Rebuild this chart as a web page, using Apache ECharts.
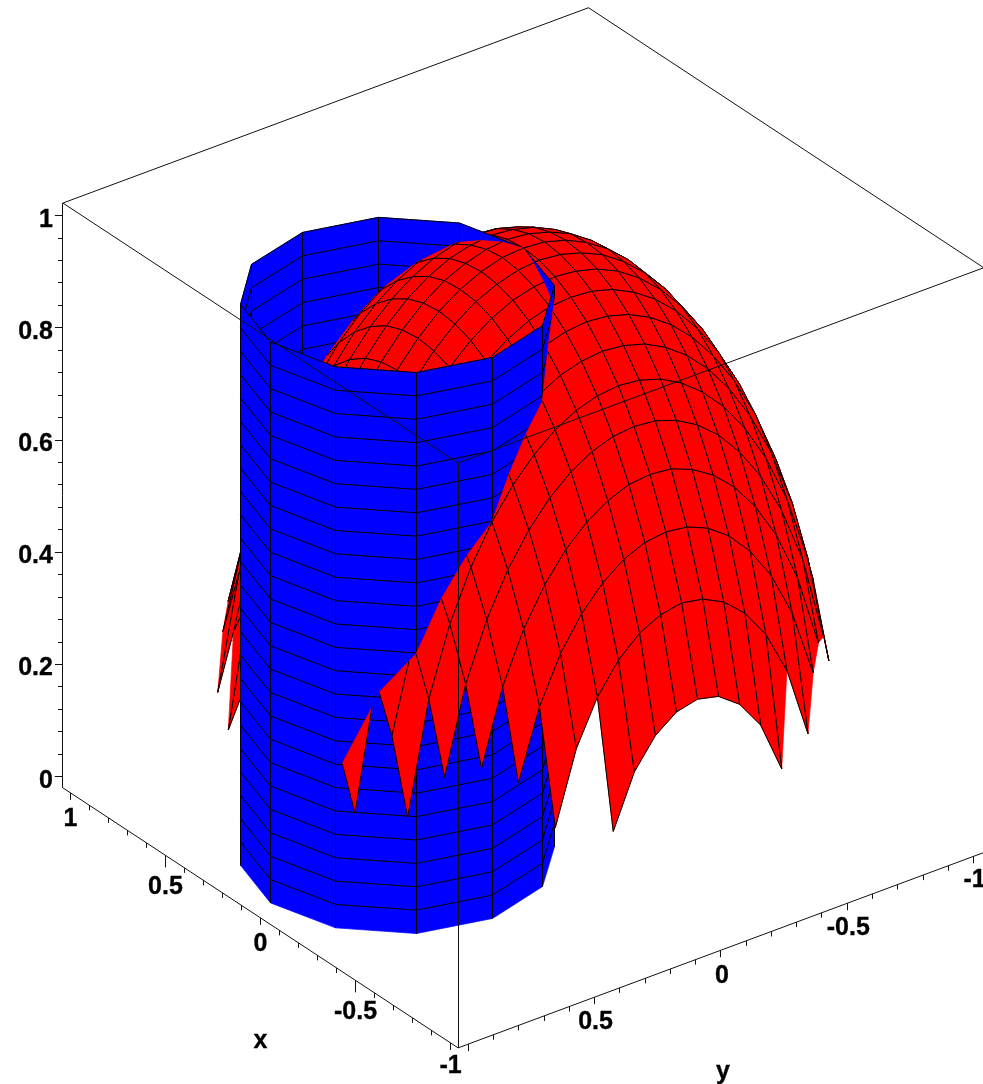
<!DOCTYPE html>
<html><head><meta charset="utf-8">
<style>html,body{margin:0;padding:0;background:#fff}#c{width:983px;height:1084px}</style>
<script src="https://cdn.jsdelivr.net/npm/echarts@6/dist/echarts.min.js"></script>
</head><body><div id="c"></div>
<script>
// ---------- data ----------
const gridSteps = [-1,-0.9167,-0.8333,-0.75,-0.6667,-0.5833,-0.5,-0.4167,-0.3333,-0.25,-0.1667,-0.0833,0,0.0833,0.1667,0.25,0.3333,0.4167,0.5,0.5833,0.6667,0.75,0.8333,0.9167,1];
// surface heights for |x| index (rows) and |y| index (columns), 0..12; null = no surface there
const heightRow0  = [1,.997,.986,.968,.943,.909,.866,.812,.745,.661,.553,.400,null];
const heightRow1  = [.997,.993,.982,.965,.939,.905,.862,.808,.741,.656,.546,.391,null];
const heightRow2  = [.986,.982,.972,.954,.928,.894,.850,.795,.726,.640,.527,.363,null];
const heightRow3  = [.968,.965,.954,.935,.909,.874,.829,.773,.702,.612,.493,.312,null];
const heightRow4  = [.943,.939,.928,.909,.882,.846,.799,.741,.667,.571,.441,.220,null];
const heightRow5  = [.909,.905,.894,.874,.846,.808,.759,.697,.618,.514,.363,null,null];
const heightRow6  = [.866,.862,.850,.829,.799,.759,.707,.640,.553,.433,.236,null,null];
const heightRow7  = [.812,.808,.795,.773,.741,.697,.640,.565,.464,.312,null,null,null];
const heightRow8  = [.745,.741,.726,.702,.667,.618,.553,.464,.333,null,null,null,null];
const heightRow9  = [.661,.656,.640,.612,.571,.514,.433,.312,null,null,null,null,null];
const heightRow10 = [.553,.546,.527,.493,.441,.363,.236,null,null,null,null,null,null];
const heightRow11 = [.400,.391,.363,.312,.220,null,null,null,null,null,null,null,null];
const heightRow12 = [null,null,null,null,null,null,null,null,null,null,null,null,null];
const heightRows = [heightRow0,heightRow1,heightRow2,heightRow3,heightRow4,heightRow5,heightRow6,heightRow7,heightRow8,heightRow9,heightRow10,heightRow11,heightRow12];

const cylinderX = [.5,.433,.25,0,-.25,-.433,-.5,-.433,-.25,0,.25,.433,.5];
const cylinderY = [.5,.75,.933,1,.933,.75,.5,.25,.067,0,.067,.25,.5];
const cylinderZ = [0,.0417,.0833,.125,.1667,.2083,.25,.2917,.3333,.375,.4167,.4583,.5,.5417,.5833,.625,.6667,.7083,.75,.7917,.8333,.875,.9167,.9583,1];

const zMajorTicks = [0,.2,.4,.6,.8,1];
const zMajorLabels = ['0','0.2','0.4','0.6','0.8','1'];
const zMinorTicks = [.04,.08,.12,.16,.24,.28,.32,.36,.44,.48,.52,.56,.64,.68,.72,.76,.84,.88,.92,.96];
const xMajorTicks = [1,.5,0,-.5,-1];
const xMajorLabels = ['1','0.5','0','-0.5','-1'];
const yMajorTicks = [1,.5,0,-.5,-1];
const yMajorLabels = ['','0.5','0','-0.5','-1'];
const minorTicks = [.9,.8,.7,.6,.4,.3,.2,.1,-.1,-.2,-.3,-.4,-.6,-.7,-.8,-.9];
const axisNames = ['x','y'];

// ---------- view of the 3D box on the page ----------
const boxLow = -1.04, boxHigh = 1.04, floorZ = -0.02, roofZ = 1.0225;
const origin = [523.3, 809], alongX = [-190,-125], alongY = [-252.7,93.9], alongZ = [0,-561];
const wallShift = 0.3;
const project = p => [origin[0]+p[0]*alongX[0]+p[1]*alongY[0]+p[2]*alongZ[0],
                      origin[1]+p[0]*alongX[1]+p[1]*alongY[1]+p[2]*alongZ[1]];
// direction towards the viewer: the kernel of the projection, pointing upward
const view = [alongY[0]*alongZ[1]-alongZ[0]*alongY[1],
              alongZ[0]*alongX[1]-alongX[0]*alongZ[1],
              alongX[0]*alongY[1]-alongY[0]*alongX[1]];
const viewDir = view[2] > 0 ? view : view.map(v=>-v);

// ---------- prism faces as clip planes ----------
const ringCount = cylinderX.length-1;
const cx = cylinderX.slice(0,ringCount).reduce((a,b)=>a+b,0)/ringCount;
const cy = cylinderY.slice(0,ringCount).reduce((a,b)=>a+b,0)/ringCount;
const planes = [];
for (let k=0;k<ringCount;k++){
  const mx=(cylinderX[k]+cylinderX[k+1])/2, my=(cylinderY[k]+cylinderY[k+1])/2;
  const nx=mx-cx, ny=my-cy;
  planes.push({mx,my,nx,ny,front:(nx*viewDir[0]+ny*viewDir[1])>0});
}
const dist=(pl,p)=>(p[0]-pl.mx)*pl.nx+(p[1]-pl.my)*pl.ny;

function split(poly,pl){
  const pts=poly.pts, fl=poly.edges, n=pts.length;
  const out={pts:[],edges:[],facing:poly.facing}, inn={pts:[],edges:[],facing:poly.facing};
  for(let i=0;i<n;i++){
    const a=pts[i], b=pts[(i+1)%n], da=dist(pl,a), db=dist(pl,b);
    const A=da>=0?out:inn, B=da>=0?inn:out;
    A.pts.push(a); A.edges.push(fl[i]);
    if((da>=0)!==(db>=0)){
      const t=da/(da-db), c=[a[0]+(b[0]-a[0])*t,a[1]+(b[1]-a[1])*t,a[2]+(b[2]-a[2])*t];
      A.pts.push(c); A.edges.push(false);
      B.pts.push(c); B.edges.push(fl[i]);
    }
  }
  return {out,inn};
}

// ---------- build surface pieces ----------
const backBF=[],backFF=[],frontBF=[],frontFF=[],innerBF=[],innerFF=[];
function fileOutside(poly){
  const n=poly.pts.length, c=[0,0,0];
  poly.pts.forEach(p=>{c[0]+=p[0]/n;c[1]+=p[1]/n;c[2]+=p[2]/n;});
  let f=false,b=false;
  planes.forEach(pl=>{ if(dist(pl,c)>1e-9){ if(pl.front) f=true; else b=true; } });
  const isFront = (f&&b) ? poly.facing>0 : !b;
  if(isFront) (poly.facing>0?frontFF:frontBF).push(poly);
  else (poly.facing>0?backFF:backBF).push(poly);
}
function fileQuad(poly){
  for(const pl of planes){
    if(poly.pts.every(p=>dist(pl,p)>=-1e-9)){ fileOutside(poly); return; }
  }
  let rest=poly;
  for(const pl of planes){
    const s=split(rest,pl);
    if(s.out.pts.length>=3) fileOutside(s.out);
    rest=s.inn;
    if(rest.pts.length<3) return;
  }
  (rest.facing>0?innerFF:innerBF).push(rest);
}
function upwardFacing(pts){
  const u=[pts[1][0]-pts[0][0],pts[1][1]-pts[0][1],pts[1][2]-pts[0][2]];
  const v=[pts[pts.length-1][0]-pts[0][0],pts[pts.length-1][1]-pts[0][1],pts[pts.length-1][2]-pts[0][2]];
  let nrm=[u[1]*v[2]-u[2]*v[1],u[2]*v[0]-u[0]*v[2],u[0]*v[1]-u[1]*v[0]];
  if(nrm[2]<0) nrm=nrm.map(a=>-a);
  return nrm[0]*viewDir[0]+nrm[1]*viewDir[1]+nrm[2]*viewDir[2];
}
const heightAt=(i,j)=>heightRows[Math.abs(i-12)][Math.abs(j-12)];
for(let i=0;i<gridSteps.length-1;i++){
  for(let j=0;j<gridSteps.length-1;j++){
    const corners=[[i,j],[i+1,j],[i+1,j+1],[i,j+1]].map(c=>{
      const h=heightAt(c[0],c[1]);
      return h===null?null:[gridSteps[c[0]],gridSteps[c[1]],h];
    });
    const missing=corners.filter(c=>c===null).length;
    let pts=null, edges=null;
    if(missing===0){ pts=corners; edges=[true,true,true,true]; }
    else if(missing===1 && corners[0]===null){ pts=[corners[1],corners[2],corners[3]]; edges=[true,true,false]; }
    else if(missing===1 && corners[2]===null){ pts=[corners[3],corners[0],corners[1]]; edges=[true,true,false]; }
    if(!pts) continue;
    fileQuad({pts,edges,facing:upwardFacing(pts)});
  }
}
// ---------- cylinder wall quads ----------
const wallBack=[],wallFront=[];
for(let k=0;k<ringCount;k++){
  const lastInGroup = k===ringCount-1 || planes[k+1].front!==planes[k].front;
  for(let m=0;m<cylinderZ.length-1;m++){
    const q={pts:[[cylinderX[k],cylinderY[k],cylinderZ[m]],[cylinderX[k+1],cylinderY[k+1],cylinderZ[m]],
                  [cylinderX[k+1],cylinderY[k+1],cylinderZ[m+1]],[cylinderX[k],cylinderY[k],cylinderZ[m+1]]],
             edges:[m>0,lastInGroup,m===cylinderZ.length-2,true],blue:true};
    (planes[k].front?wallFront:wallBack).push(q);
  }
}
const scene=[...backBF,...backFF,...wallBack,...innerBF,...innerFF,...wallFront,...frontBF,...frontFF];

const crisp=v=>Math.floor(v)+0.5;
function renderPiece(params,api){
  const poly=scene[api.value(0)];
  const pts=poly.pts.map(p=>{
    const c=api.coord(project(p));
    return poly.blue?[crisp(c[0]+wallShift),c[1]]:c;
  });
  const fill=poly.blue?'#0000ff':'#ff0000';
  const kids=[{type:'polygon',shape:{points:pts},style:{fill,stroke:fill,lineWidth:0.7}}];
  poly.edges.forEach((on,i)=>{
    if(!on) return;
    const a=pts[i],b=pts[(i+1)%pts.length];
    kids.push({type:'line',shape:{x1:a[0],y1:a[1],x2:b[0],y2:b[1]},style:{stroke:'#000',lineWidth:1,fill:null}});
  });
  return {type:'group',children:kids};
}

// ---------- box, ticks and labels ----------
const frameEdges=[
  [[boxHigh,boxHigh,roofZ],[boxHigh,boxLow,roofZ]],
  [[boxHigh,boxLow,roofZ],[boxLow,boxLow,roofZ]],
  [[boxLow,boxLow,roofZ],[boxLow,boxHigh,roofZ]],
  [[boxLow,boxHigh,roofZ],[boxHigh,boxHigh,roofZ]],
  [[boxLow,boxHigh,roofZ],[boxLow,boxHigh,floorZ]],
  [[boxHigh,boxHigh,roofZ],[boxHigh,boxHigh,floorZ]],
  [[boxHigh,boxHigh,floorZ],[boxLow,boxHigh,floorZ]],
  [[boxLow,boxHigh,floorZ],[boxLow,boxLow,floorZ]]
];
const font='bold 25px "Liberation Sans", Arial, sans-serif';
const marks=[];
frameEdges.forEach(e=>marks.push({k:'seg',a:project(e[0]),b:project(e[1])}));
const tick=(p,dx,dy)=>{const a=project(p);marks.push({k:'seg',a,b:[a[0]+dx,a[1]+dy]});};
zMajorTicks.forEach((z,i)=>{
  const p=[boxHigh,boxHigh,z]; tick(p,-8,0); const a=project(p);
  marks.push({k:'txt',t:zMajorLabels[i],at:[a[0]-10,a[1]+4],align:'right'});
});
zMinorTicks.forEach(z=>tick([boxHigh,boxHigh,z],-5,0));
xMajorTicks.forEach((x,i)=>{
  const label=xMajorLabels[i], p=[x,boxHigh,floorZ];
  tick(p,0,label.length>2?12:7); const a=project(p);
  marks.push({k:'txt',t:label,at:[a[0],a[1]+(label.length>2?32:label.length>1?23:26)],align:'center'});
});
minorTicks.forEach(x=>tick([x,boxHigh,floorZ],0,5));
yMajorTicks.forEach((y,i)=>{
  const label=yMajorLabels[i], p=[boxLow,y,floorZ];
  tick(p,0,7); const a=project(p);
  if(label) marks.push({k:'txt',t:label,at:[a[0]+1,a[1]+(label.length>2?25:label.length>1?24:26)],align:'center'});
});
minorTicks.forEach(y=>tick([boxLow,y,floorZ],0,5));
const xName=project([0,boxHigh,floorZ]), yName=project([boxLow,0,floorZ]);
marks.push({k:'txt',t:axisNames[0],at:[xName[0],xName[1]+123],align:'center'});
marks.push({k:'txt',t:axisNames[1],at:[yName[0]+2,yName[1]+122],align:'center'});

function renderMark(params,api){
  const m=marks[api.value(0)];
  if(m.k==='seg'){
    const a=api.coord(m.a),b=api.coord(m.b);
    if(Math.abs(a[0]-b[0])<0.01){a[0]=b[0]=crisp(a[0]);}
    if(Math.abs(a[1]-b[1])<0.01){a[1]=b[1]=crisp(a[1]);}
    return {type:'line',shape:{x1:a[0],y1:a[1],x2:b[0],y2:b[1]},style:{stroke:'#111',lineWidth:1,fill:null}};
  }
  const a=api.coord(m.at);
  return {type:'text',style:{text:m.t,x:a[0],y:a[1],font,fill:'#000',stroke:'#000',lineWidth:0.35,align:m.align,verticalAlign:'middle'}};
}

const chart=echarts.init(document.getElementById('c'),null,{width:983,height:1084});
chart.setOption({
  animation:false,
  grid:{left:0,right:0,top:0,bottom:0},
  xAxis:{type:'value',min:0,max:983,show:false},
  yAxis:{type:'value',min:0,max:1084,inverse:true,show:false},
  series:[
    {type:'custom',coordinateSystem:'cartesian2d',clip:false,silent:true,progressive:0,z:2,
     data:scene.map((_,i)=>[i]),renderItem:renderPiece},
    {type:'custom',coordinateSystem:'cartesian2d',clip:false,silent:true,progressive:0,z:3,
     data:marks.map((_,i)=>[i]),renderItem:renderMark}
  ]
});
</script></body></html>
